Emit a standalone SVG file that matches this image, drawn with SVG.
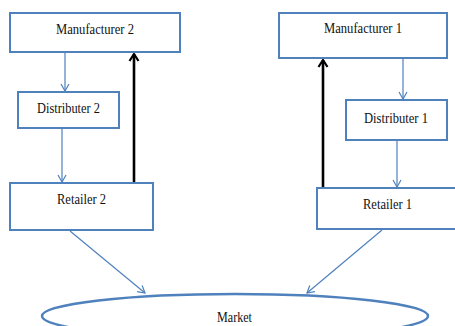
<svg xmlns="http://www.w3.org/2000/svg" width="455" height="326" viewBox="0 0 455 326">
<defs>
<style>
.box{fill:#fff;stroke:#4f81bd;stroke-width:2}
.lbl{font-family:"Liberation Serif","Times New Roman",serif;font-size:15px;fill:#111;text-anchor:middle}
.flow{stroke:#4f81bd;stroke-width:1.2;fill:none}
.back{stroke:#000;stroke-width:2.6;fill:none}
</style>
<marker id="ab" markerWidth="10" markerHeight="10" refX="8" refY="5" orient="auto" markerUnits="userSpaceOnUse">
<path d="M1,1 L8,5 L1,9" fill="none" stroke="#4f81bd" stroke-width="1.2"/>
</marker>
<marker id="ak" markerWidth="12" markerHeight="12" refX="9" refY="6" orient="auto" markerUnits="userSpaceOnUse">
<path d="M2,1.5 L9,6 L2,10.5" fill="none" stroke="#000" stroke-width="2.2"/>
</marker>
</defs>
<rect width="455" height="326" fill="#fff"/>
<g id="connectors">
<line class="flow" x1="65" y1="53" x2="65" y2="91" marker-end="url(#ab)"/>
<line class="flow" x1="62" y1="129" x2="62" y2="182" marker-end="url(#ab)"/>
<line class="back" x1="134" y1="183" x2="134" y2="54" marker-end="url(#ak)"/>
<line class="flow" x1="403" y1="59" x2="403" y2="99" marker-end="url(#ab)"/>
<line class="flow" x1="397" y1="141" x2="397" y2="187" marker-end="url(#ab)"/>
<line class="back" x1="323" y1="188" x2="323" y2="60" marker-end="url(#ak)"/>
<line class="flow" x1="70" y1="231" x2="145" y2="293" marker-end="url(#ab)"/>
<line class="flow" x1="382" y1="230" x2="307" y2="293" marker-end="url(#ab)"/>
</g>
<g id="manufacturer2">
<rect class="box" x="10" y="13" width="170" height="39"/>
<text class="lbl" x="95" y="34" textLength="78" lengthAdjust="spacingAndGlyphs">Manufacturer 2</text>
</g>
<g id="distributer2">
<rect class="box" x="18" y="92" width="101" height="36"/>
<text class="lbl" x="68.5" y="113" textLength="63" lengthAdjust="spacingAndGlyphs">Distributer 2</text>
</g>
<g id="retailer2">
<rect class="box" x="10" y="183" width="143" height="47"/>
<text class="lbl" x="81.5" y="204" textLength="49" lengthAdjust="spacingAndGlyphs">Retailer 2</text>
</g>
<g id="manufacturer1">
<rect class="box" x="279" y="13" width="168" height="45"/>
<text class="lbl" x="363" y="33" textLength="78" lengthAdjust="spacingAndGlyphs">Manufacturer 1</text>
</g>
<g id="distributer1">
<rect class="box" x="346" y="100" width="101" height="40"/>
<text class="lbl" x="396" y="123" textLength="64" lengthAdjust="spacingAndGlyphs">Distributer 1</text>
</g>
<g id="retailer1">
<rect class="box" x="317" y="188" width="145" height="41"/>
<text class="lbl" x="387.5" y="209" textLength="49" lengthAdjust="spacingAndGlyphs">Retailer 1</text>
</g>
<g id="market">
<ellipse cx="235" cy="316" rx="193" ry="22" fill="#fff" stroke="#4f81bd" stroke-width="2.4"/>
<text class="lbl" x="234.5" y="322" textLength="35" lengthAdjust="spacingAndGlyphs">Market</text>
</g>
</svg>
